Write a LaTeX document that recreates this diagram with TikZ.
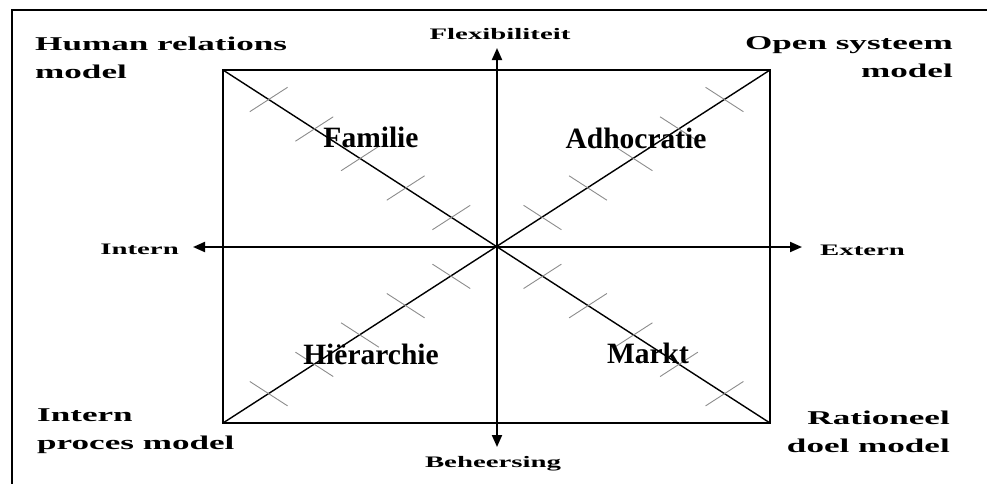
\documentclass[tikz,border=0pt]{standalone}
\usepackage{fontspec}
\setmainfont{Liberation Serif}
\newfontfamily\widefont{Liberation Serif}[FakeStretch=1.8]
\usepackage{tikz}
\usetikzlibrary{arrows.meta,calc}

\begin{document}
\begin{tikzpicture}[x=1pt, y=-1pt,
    frame/.style={line width=2pt},
    quad/.style={line width=2pt},
    diag/.style={line width=1.4pt},
    axis/.style={line width=2pt, {Triangle[length=12pt,width=10pt]}-{Triangle[length=12pt,width=10pt]}},
    tick/.style={line width=0.9pt, black!45},
    culture/.style={font=\fontsize{29.5}{30}\selectfont\bfseries, inner sep=0pt, anchor=base},
    model/.style={font=\widefont\fontsize{19.5}{28}\selectfont\bfseries, inner sep=0pt},
    dim/.style={font=\widefont\fontsize{16}{18}\selectfont\bfseries, inner sep=0pt}
]
\useasboundingbox (0,0) rectangle (987,483);
\clip (0,0) rectangle (987,483);
\draw[frame] (12,10) rectangle (1000,500);

% kwadrant
\coordinate (tl) at (223,70);
\coordinate (tr) at (770,70);
\coordinate (bl) at (223,423);
\coordinate (br) at (770,423);
\coordinate (c) at (497,247);
\draw[quad] (tl) rectangle (br);
\draw[diag] (tl) -- (br);
\draw[diag] (bl) -- (tr);

% streepjes op de diagonalen
\foreach \k in {1,...,5}{
  \foreach \corner/\dx/\dy in {tl/18.9/-12.2, br/18.9/-12.2, tr/18.9/12.2, bl/18.9/12.2}
    \draw[tick] ($(c)!\k/6!(\corner)$) +(-\dx,-\dy) -- +(\dx,\dy);
}

% assen
\coordinate (up) at (497,48);
\coordinate (down) at (497,447);
\coordinate (left) at (193,247);
\coordinate (right) at (802,247);
\draw[axis] (left) -- (right);
\draw[axis] (down) -- (up);

\node[dim, anchor=base] (flex) at (500,39) {Flexibiliteit};
\node[dim, anchor=base] (beh) at (493,467) {Beheersing};
\node[dim, anchor=base east] (int) at (179,254) {Intern};
\node[dim, anchor=base west] (ext) at (820,255) {Extern};

% culturen
\node[culture] (fam) at (371,147) {Familie};
\node[culture] (adh) at (636,148) {Adhocratie};
\node[culture] (hier) at (371,364) {Hiërarchie};
\node[culture] (markt) at (648,363) {Markt};

% modellen (base = laatste regel)
\node[model, anchor=base west, align=left] (hrm) at (35,78) {Human relations\\model};
\node[model, anchor=base east, align=right] (osm) at (953,77) {Open systeem\\model};
\node[model, anchor=base west, align=left] (ipm) at (37,449) {Intern\\proces model};
\node[model, anchor=base east, align=right] (rdm) at (950,452) {Rationeel\\doel model};
\end{tikzpicture}
\end{document}
